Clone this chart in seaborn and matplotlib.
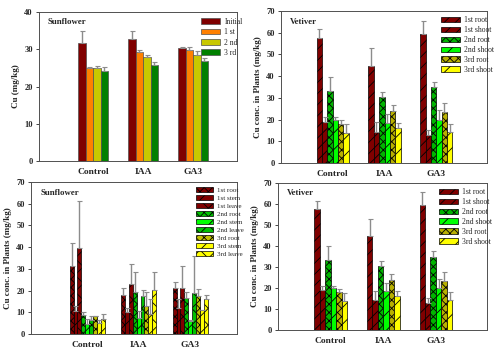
import numpy as np
import pandas as pd
import matplotlib
matplotlib.use("Agg")
import matplotlib.pyplot as plt
import seaborn as sns

# ---------------- data ----------------
treatments = ["Control", "IAA", "GA3"]

# Sunflower soil Cu (mg/kg)
soil_series = ["Initial", "1 st", "2 nd", "3 rd"]
soil_vals = [[31.6, 32.8, 30.3],
             [25.0, 29.3, 29.8],
             [25.0, 27.8, 28.5],
             [24.1, 25.9, 26.9]]
soil_errtop = [[34.8, 34.9, 30.5],
               [25.2, 29.8, 30.5],
               [25.4, 28.4, 29.6],
               [25.3, 26.6, 27.6]]

# Vetiver Cu conc. in plants (mg/kg)
vet_series = ["1st root", "1st shoot", "2nd root", "2nd shoot", "3rd root", "3rd shoot"]
vet_vals = [[57.4, 44.7, 59.6],
            [19.1, 14.5, 12.9],
            [33.2, 30.5, 34.8],
            [19.9, 18.5, 19.9],
            [18.1, 24.0, 23.4],
            [13.9, 16.1, 14.2]]
vet_errtop = [[61.6, 52.8, 65.5],
              [21.0, 18.8, 15.3],
              [39.8, 32.9, 37.4],
              [21.1, 22.4, 24.2],
              [19.6, 26.6, 27.6],
              [17.8, 18.4, 18.1]]

# Sunflower Cu conc. in plants (mg/kg)
sun_series = ["1st root", "1st stem", "1st leave", "2nd root", "2nd stem", "2nd leave",
              "3rd root", "3rd stem", "3rd leave"]
sun_vals = [[31.5, 18.0, 21.1],
            [10.4, 10.0, 12.2],
            [39.8, 23.1, 21.4],
            [8.6, 19.3, 16.8],
            [4.7, 7.3, 5.8],
            [6.6, 17.3, 19.0],
            [8.3, 13.0, 17.3],
            [5.0, 9.2, 10.9],
            [7.0, 20.2, 16.2]]
sun_errtop = [[41.7, 21.1, 23.9],
              [12.7, 11.9, 16.2],
              [61.2, 32.1, 31.5],
              [10.1, 28.4, 19.3],
              [7.0, 10.4, 6.6],
              [8.4, 20.3, 35.8],
              [8.4, 19.3, 20.8],
              [6.3, 16.2, 11.0],
              [9.2, 28.7, 18.0]]

# ---------------- style ----------------
soil_colors = ["#800000", "#FF8000", "#C8C800", "#008000"]
soil_hatches = [None, None, None, None]
vet_colors = ["#800000", "#800000", "#00B400", "#00FF00", "#B8B000", "#FFFF00"]
vet_hatches = ["///", "///", "xxxx", "//", "xxxx", "//"]
sun_colors = ["#800000", "#800000", "#800000", "#00C000", "#00FF00", "#00C000",
              "#C0C000", "#FFFF00", "#FFFF00"]
sun_hatches = ["xxxx", "//", "xx", "xxxx", "//", "xx", "xxxx", "//", "xx"]

sns.set_theme(style="white")
plt.rcParams["font.family"] = ["Liberation Serif", "DejaVu Serif"]
plt.rcParams["hatch.linewidth"] = 0.6

fig = plt.figure(figsize=(5.0, 3.55), dpi=100)
W, H = 500, 355


def px_axes(l, t, r, b):
    return fig.add_axes([l / W, 1 - b / H, (r - l) / W, (b - t) / H])


def panel(ax, series, vals, errtop, colors, hatches, width, ymax, ylabel, title,
          xlim, leg_anchor, leg_fs, leg_spacing, edge):
    rows = []
    for s, vv in zip(series, vals):
        for t, v in zip(treatments, vv):
            rows.append({"Treatment": t, "Series": s, "Value": v})
    df = pd.DataFrame(rows)
    sns.barplot(data=df, x="Treatment", y="Value", hue="Series", hue_order=series,
                order=treatments, palette=colors, width=width, gap=0, errorbar=None,
                legend=False, ax=ax, edgecolor=edge, linewidth=0.5, saturation=1)
    for cont, h, et, vv in zip(ax.containers, hatches, errtop, vals):
        xs = []
        for p in cont.patches:
            if h:
                p.set_hatch(h)
            xs.append(p.get_x() + p.get_width() / 2)
        up = np.array(et) - np.array(vv)
        ax.errorbar(xs, vv, yerr=[np.zeros_like(up), up], fmt="none",
                    ecolor="#8c8c8c", elinewidth=1.0, capsize=1.8, capthick=0.8,
                    zorder=1)
    ax.set_ylim(0, ymax)
    ax.set_yticks(np.arange(0, ymax + 1, 10))
    ax.set_xlim(*xlim)
    ax.set_xlabel("")
    ax.set_ylabel(ylabel, fontsize=6.5, fontweight="bold", labelpad=3)
    ax.tick_params(axis="y", labelsize=6, length=2.5, width=0.6, pad=2,
                   left=True, direction="out")
    ax.tick_params(axis="x", labelsize=6.8, length=0, pad=5)
    for lab in ax.get_xticklabels() + ax.get_yticklabels():
        lab.set_fontweight("bold")
    for sp in ax.spines.values():
        sp.set_color("#505050")
        sp.set_linewidth(0.7)
    ax.text(0.045, 0.93, title, transform=ax.transAxes, fontsize=6.3,
            fontweight="bold", va="center", ha="left")
    leg = ax.legend(handles=list(ax.containers), labels=series, loc="upper left",
                    bbox_to_anchor=leg_anchor, frameon=False, fontsize=leg_fs,
                    handlelength=2.5, handleheight=0.75, labelspacing=leg_spacing,
                    handletextpad=0.5, borderpad=0, borderaxespad=0)
    leg.set_zorder(5)


ax1 = px_axes(39, 12, 237, 161)
panel(ax1, soil_series, soil_vals, soil_errtop, soil_colors, soil_hatches, 0.6, 40,
      "Cu (mg/kg)", "Sunflower", (-1.08, 2.88), (0.82, 0.96), 5.5, 0.3, "#505050")

ax2 = px_axes(281, 11, 487, 163)
panel(ax2, vet_series, vet_vals, vet_errtop, vet_colors, vet_hatches, 0.62, 70,
      "Cu conc. in Plants (mg/kg)", "Vetiver", (-1.0, 2.98), (0.775, 0.965), 5.5, 0.25,
      "black")

ax3 = px_axes(31, 182, 237, 334)
panel(ax3, sun_series, sun_vals, sun_errtop, sun_colors, sun_hatches, 0.68, 70,
      "Cu conc. in Plants (mg/kg)", "Sunflower", (-1.09, 2.91), (0.8, 0.97), 5.0, 0.3,
      "black")

ax4 = px_axes(278, 183, 487, 330)
panel(ax4, vet_series, vet_vals, vet_errtop, vet_colors, vet_hatches, 0.62, 70,
      "Cu conc. in Plants (mg/kg)", "Vetiver", (-1.0, 2.97), (0.77, 0.965), 5.5, 0.25,
      "black")

fig.savefig("out.png", dpi=100)
